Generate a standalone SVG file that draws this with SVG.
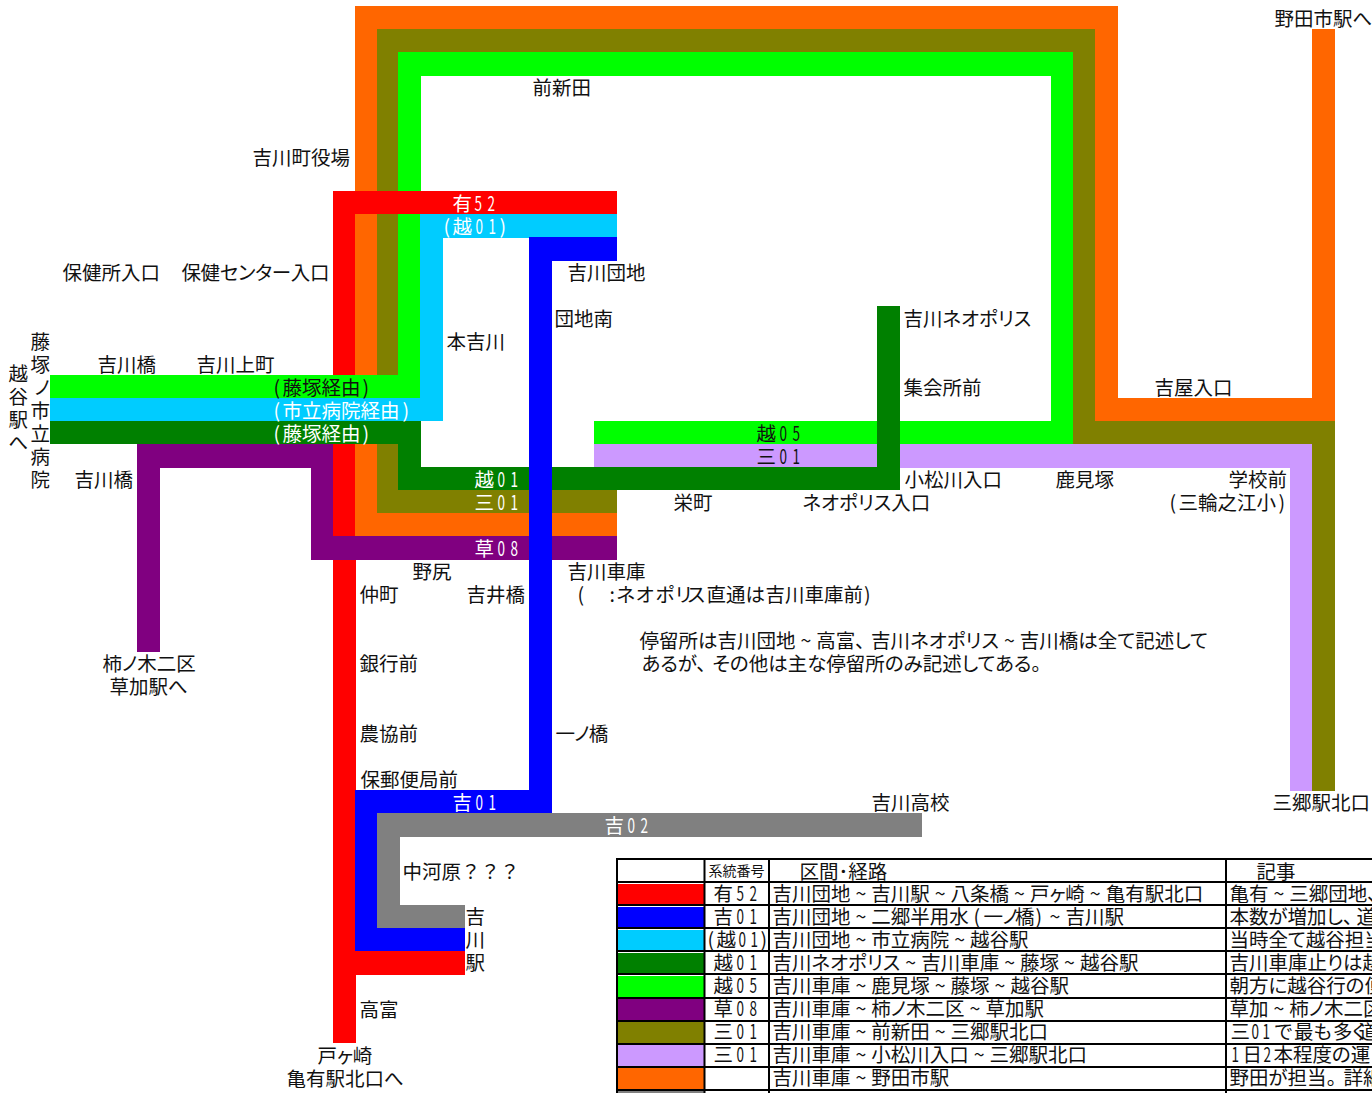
<svg xmlns="http://www.w3.org/2000/svg" width="1372" height="1093" viewBox="0 0 1372 1093">
<style>
text{font-family:"Noto Sans CJK JP","Liberation Sans",sans-serif;font-size:19.5px;fill:#111;font-feature-settings:"palt"}
.w{fill:#fff}
.sm{font-size:14px}
.red{fill:#f00}.blue{fill:#00f}.cyan{fill:#0cf}.dg{fill:#008000}.lime{fill:#0f0}.pur{fill:#800080}.oli{fill:#808000}.lav{fill:#c9f}.ora{fill:#f60}.gry{fill:#808080}
.line{fill:#000}
</style>
<rect width="1372" height="1093" fill="#fff"/>
<g id="connectors">
<path class="ora" d="M355 6H1118V398H1312V29H1335V421H1095V29H377V375H355Z"/>
<path class="oli" d="M377 29H1095V421H1335V791H1312V444H1073V52H398V375H377Z"/>
<path class="lime" d="M398 52H1073V444H594V421H1051V76H421V191H398Z"/>
<rect class="lime" x="398" y="214" width="22" height="161"/>
<rect class="lav" x="594" y="444" width="718" height="24"/>
<rect class="lav" x="1290" y="444" width="22" height="347"/>
<path class="ora" d="M355 444H377V513H617V536H355Z"/>
<path class="oli" d="M377 444H398V490H617V513H377Z"/>
<path class="pur" d="M137 444H333V536H617V560H311V468H160V652H137Z"/>
<path class="dg" d="M398 444H421V467H877V306H900V490H398Z"/>
<rect class="lime" x="50" y="375" width="370" height="23"/>
<path class="cyan" d="M50 398H420V214H617V238H443V421H50Z"/>
<rect class="dg" x="50" y="421" width="371" height="23"/>
<path class="red" d="M333 191H617V214H355V375H333Z"/>
<path class="red" d="M333 444H355V536H333Z"/>
<path class="red" d="M333 560H356V951H465V975H356V1043H333Z"/>
<path class="gry" d="M377 813H922V837H400V905H465V928H377Z"/>
<path class="blue" d="M529 237H617V261H552V813H377V928H465V951H355V790H529Z"/>
</g>
<g id="labels" transform="translate(-0.6 0)">
<text x="1275" y="26">野田市駅へ</text>
<text x="533" y="95">前新田</text>
<text x="253" y="165">吉川町役場</text>
<text x="63" y="280">保健所入口</text>
<text x="182" y="280" style="letter-spacing:-.3px">保健センター入口</text>
<text x="568" y="280">吉川団地</text>
<text x="555" y="326">団地南</text>
<text x="904" y="326">吉川ネオポリス</text>
<text x="447" y="349">本吉川</text>
<text x="904" y="395">集会所前</text>
<text x="1155" y="395">吉屋入口</text>
<text x="98" y="372">吉川橋</text>
<text x="197" y="372">吉川上町</text>
<text x="31 31 35 31 31 31 31" y="349 372 395 418 441 464 487">藤塚ノ市立病院</text>
<text x="9 9 9 9" y="381 404 427 450">越谷駅へ</text>
<text x="75" y="487">吉川橋</text>
<text x="274 283 302.500 322 341.500 363" y="395">(藤塚経由)</text>
<text class="w" x="274 283 302.500 322 341.500 361 380.500 403" y="418">(市立病院経由)</text>
<text class="w" x="274 283 302.500 322 341.500 363" y="441">(藤塚経由)</text>
<text class="w" x="453" y="211">有<tspan x="475" textLength="7.500" lengthAdjust="spacingAndGlyphs">5</tspan><tspan x="488" textLength="7.500" lengthAdjust="spacingAndGlyphs">2</tspan></text>
<text class="w" x="444 453" y="234">(越<tspan x="476" textLength="7.500" lengthAdjust="spacingAndGlyphs">0</tspan><tspan x="489" textLength="7.500" lengthAdjust="spacingAndGlyphs">1</tspan><tspan x="500">)</tspan></text>
<text x="757" y="441">越<tspan x="780" textLength="7.500" lengthAdjust="spacingAndGlyphs">0</tspan><tspan x="793" textLength="7.500" lengthAdjust="spacingAndGlyphs">5</tspan></text>
<text x="757" y="464">三<tspan x="780" textLength="7.500" lengthAdjust="spacingAndGlyphs">0</tspan><tspan x="793" textLength="7.500" lengthAdjust="spacingAndGlyphs">1</tspan></text>
<text x="905" y="487">小松川入口</text>
<text x="1056" y="487">鹿見塚</text>
<text x="1229" y="487">学校前</text>
<text x="1170 1179 1198.500 1218 1237.500 1257 1279" y="510">(三輪之江小)</text>
<text class="w" x="475" y="487">越<tspan x="498" textLength="7.500" lengthAdjust="spacingAndGlyphs">0</tspan><tspan x="511" textLength="7.500" lengthAdjust="spacingAndGlyphs">1</tspan></text>
<text class="w" x="475" y="510">三<tspan x="498" textLength="7.500" lengthAdjust="spacingAndGlyphs">0</tspan><tspan x="511" textLength="7.500" lengthAdjust="spacingAndGlyphs">1</tspan></text>
<text class="w" x="475" y="556">草<tspan x="498" textLength="7.500" lengthAdjust="spacingAndGlyphs">0</tspan><tspan x="511" textLength="7.500" lengthAdjust="spacingAndGlyphs">8</tspan></text>
<text x="674" y="510">栄町</text>
<text x="803" y="510">ネオポリス入口</text>
<text x="413" y="579">野尻</text>
<text x="568" y="579">吉川車庫</text>
<text x="360" y="602">仲町</text>
<text x="467" y="602">吉井橋</text>
<text x="578" y="602">(</text>
<text x="610 617 636.500 656 676 688 707 726.500 746 766 785.500 805 824.500 844 864.500" y="602">:ネオポリス直通は吉川車庫前)</text>
<text x="640" y="648">停留所は吉川団地<tspan dx="5">~</tspan><tspan dx="5">高富、</tspan><tspan dx="6">吉川ネオポリス</tspan><tspan dx="5">~</tspan><tspan dx="5">吉川橋は全て記述して</tspan></text>
<text x="642" y="671">あるが、<tspan dx="6">その他は主な停留所のみ記述してある。</tspan></text>
<text x="103" y="671">柿ノ木二区</text>
<text x="110" y="694">草加駅へ</text>
<text x="360" y="671">銀行前</text>
<text x="360" y="741">農協前</text>
<text x="556" y="741" style="letter-spacing:-.8px">一ノ橋</text>
<text x="361" y="787">保郵便局前</text>
<text class="w" x="453" y="810">吉<tspan x="476" textLength="7.500" lengthAdjust="spacingAndGlyphs">0</tspan><tspan x="489" textLength="7.500" lengthAdjust="spacingAndGlyphs">1</tspan></text>
<text x="872" y="810">吉川高校</text>
<text x="1273" y="810">三郷駅北口</text>
<text class="w" x="605" y="833">吉<tspan x="628" textLength="7.500" lengthAdjust="spacingAndGlyphs">0</tspan><tspan x="641" textLength="7.500" lengthAdjust="spacingAndGlyphs">2</tspan></text>
<text x="403" y="879" style="font-feature-settings:normal">中河原？？？</text>
<text x="466 466 466" y="924 947 970">吉川駅</text>
<text x="360" y="1017">高富</text>
<text x="318" y="1063">戸ヶ崎</text>
<text x="287" y="1086">亀有駅北口へ</text>
</g>
<g id="legend-table">
<rect class="red" x="618" y="884" width="86" height="21"/>
<rect class="blue" x="618" y="907" width="86" height="21"/>
<rect class="cyan" x="616" y="930" width="88" height="21"/>
<rect class="dg" x="618" y="953" width="86" height="21"/>
<rect class="lime" x="618" y="976" width="86" height="21"/>
<rect class="pur" x="618" y="999" width="86" height="21"/>
<rect class="oli" x="618" y="1022" width="86" height="21"/>
<rect class="lav" x="618" y="1045" width="86" height="21"/>
<rect class="ora" x="618" y="1068" width="86" height="21"/>
<rect class="gry" x="618" y="1091" width="86" height="2"/>
<g class="line">
<rect x="616" y="858" width="756" height="2"/>
<rect x="616" y="881" width="756" height="2"/>
<rect x="616" y="904" width="756" height="2"/>
<rect x="616" y="927" width="756" height="2"/>
<rect x="616" y="950" width="756" height="2"/>
<rect x="616" y="973" width="756" height="2"/>
<rect x="616" y="997" width="756" height="2"/>
<rect x="616" y="1020" width="756" height="2"/>
<rect x="616" y="1043" width="756" height="2"/>
<rect x="616" y="1066" width="756" height="2"/>
<rect x="616" y="1089" width="756" height="2"/>
<rect x="616" y="858" width="2" height="235"/>
<rect x="703.500" y="858" width="2" height="235"/>
<rect x="768" y="858" width="2" height="235"/>
<rect x="1225" y="858" width="2" height="235"/>
</g>
<g transform="translate(-0.6 0)">
<text class="sm" x="709" y="876">系統番号</text>
<text x="800" y="879">区間･経路</text>
<text x="1257" y="879">記事</text>
<text x="714" y="901">有<tspan x="737" textLength="7.500" lengthAdjust="spacingAndGlyphs">5</tspan><tspan x="750" textLength="7.500" lengthAdjust="spacingAndGlyphs">2</tspan></text>
<text x="714" y="924">吉<tspan x="737" textLength="7.500" lengthAdjust="spacingAndGlyphs">0</tspan><tspan x="750" textLength="7.500" lengthAdjust="spacingAndGlyphs">1</tspan></text>
<text x="708 717" y="947">(越<tspan x="739" textLength="7.500" lengthAdjust="spacingAndGlyphs">0</tspan><tspan x="751" textLength="7.500" lengthAdjust="spacingAndGlyphs">1</tspan><tspan x="761">)</tspan></text>
<text x="714" y="970">越<tspan x="737" textLength="7.500" lengthAdjust="spacingAndGlyphs">0</tspan><tspan x="750" textLength="7.500" lengthAdjust="spacingAndGlyphs">1</tspan></text>
<text x="714" y="993">越<tspan x="737" textLength="7.500" lengthAdjust="spacingAndGlyphs">0</tspan><tspan x="750" textLength="7.500" lengthAdjust="spacingAndGlyphs">5</tspan></text>
<text x="714" y="1016">草<tspan x="737" textLength="7.500" lengthAdjust="spacingAndGlyphs">0</tspan><tspan x="750" textLength="7.500" lengthAdjust="spacingAndGlyphs">8</tspan></text>
<text x="714" y="1039">三<tspan x="737" textLength="7.500" lengthAdjust="spacingAndGlyphs">0</tspan><tspan x="750" textLength="7.500" lengthAdjust="spacingAndGlyphs">1</tspan></text>
<text x="714" y="1062">三<tspan x="737" textLength="7.500" lengthAdjust="spacingAndGlyphs">0</tspan><tspan x="750" textLength="7.500" lengthAdjust="spacingAndGlyphs">1</tspan></text>
<text x="773" y="901">吉川団地<tspan dx="5">~</tspan><tspan dx="5">吉川駅</tspan><tspan dx="5">~</tspan><tspan dx="5">八条橋</tspan><tspan dx="5">~</tspan><tspan dx="5">戸ヶ崎</tspan><tspan dx="5">~</tspan><tspan dx="5">亀有駅北口</tspan></text>
<text x="773" y="924">吉川団地<tspan dx="5">~</tspan><tspan dx="5">二郷半用水</tspan><tspan x="974">(</tspan><tspan x="984 1003">一ノ</tspan><tspan x="1015.500">橋</tspan><tspan x="1036">)</tspan><tspan x="1050">~</tspan><tspan x="1066">吉川駅</tspan></text>
<text x="773" y="947">吉川団地<tspan dx="5">~</tspan><tspan dx="5">市立病院</tspan><tspan dx="5">~</tspan><tspan dx="5">越谷駅</tspan></text>
<text x="773" y="970">吉川ネオポリス<tspan dx="5">~</tspan><tspan dx="5">吉川車庫</tspan><tspan dx="5">~</tspan><tspan dx="5">藤塚</tspan><tspan dx="5">~</tspan><tspan dx="5">越谷駅</tspan></text>
<text x="773" y="993">吉川車庫<tspan dx="5">~</tspan><tspan dx="5">鹿見塚</tspan><tspan dx="5">~</tspan><tspan dx="5">藤塚</tspan><tspan dx="5">~</tspan><tspan dx="5">越谷駅</tspan></text>
<text x="773" y="1016">吉川車庫<tspan dx="5">~</tspan><tspan dx="5">柿ノ木二区</tspan><tspan dx="5">~</tspan><tspan dx="5">草加駅</tspan></text>
<text x="773" y="1039">吉川車庫<tspan dx="5">~</tspan><tspan dx="5">前新田</tspan><tspan dx="5">~</tspan><tspan dx="5">三郷駅北口</tspan></text>
<text x="773" y="1062">吉川車庫<tspan dx="5">~</tspan><tspan dx="5">小松川入口</tspan><tspan dx="5">~</tspan><tspan dx="5">三郷駅北口</tspan></text>
<text x="773" y="1085">吉川車庫<tspan dx="5">~</tspan><tspan dx="5">野田市駅</tspan></text>
<text x="1230" y="901">亀有<tspan dx="5">~</tspan><tspan dx="5">三郷団地、</tspan></text>
<text x="1230" y="924">本数が増加し、<tspan x="1357">道</tspan></text>
<text x="1230" y="947">当時全て越谷担当</text>
<text x="1230" y="970">吉川車庫止りは越</text>
<text x="1230" y="993">朝方に越谷行の便</text>
<text x="1230" y="1016">草加<tspan dx="5">~</tspan><tspan dx="5">柿ノ木二区</tspan></text>
<text x="1231" y="1039">三<tspan x="1252" textLength="7.500" lengthAdjust="spacingAndGlyphs">0</tspan><tspan x="1263" textLength="7.500" lengthAdjust="spacingAndGlyphs">1</tspan><tspan x="1275 1294.500 1314 1333.500 1353 1359">で最も多く道</tspan></text>
<text y="1062"><tspan x="1232" textLength="7.500" lengthAdjust="spacingAndGlyphs">1</tspan><tspan x="1243">日</tspan><tspan x="1264" textLength="7.500" lengthAdjust="spacingAndGlyphs">2</tspan><tspan x="1274">本程度の運</tspan></text>
<text x="1230" y="1085">野田が担当。<tspan x="1344">詳細</tspan></text>
</g>
</g>
</svg>
